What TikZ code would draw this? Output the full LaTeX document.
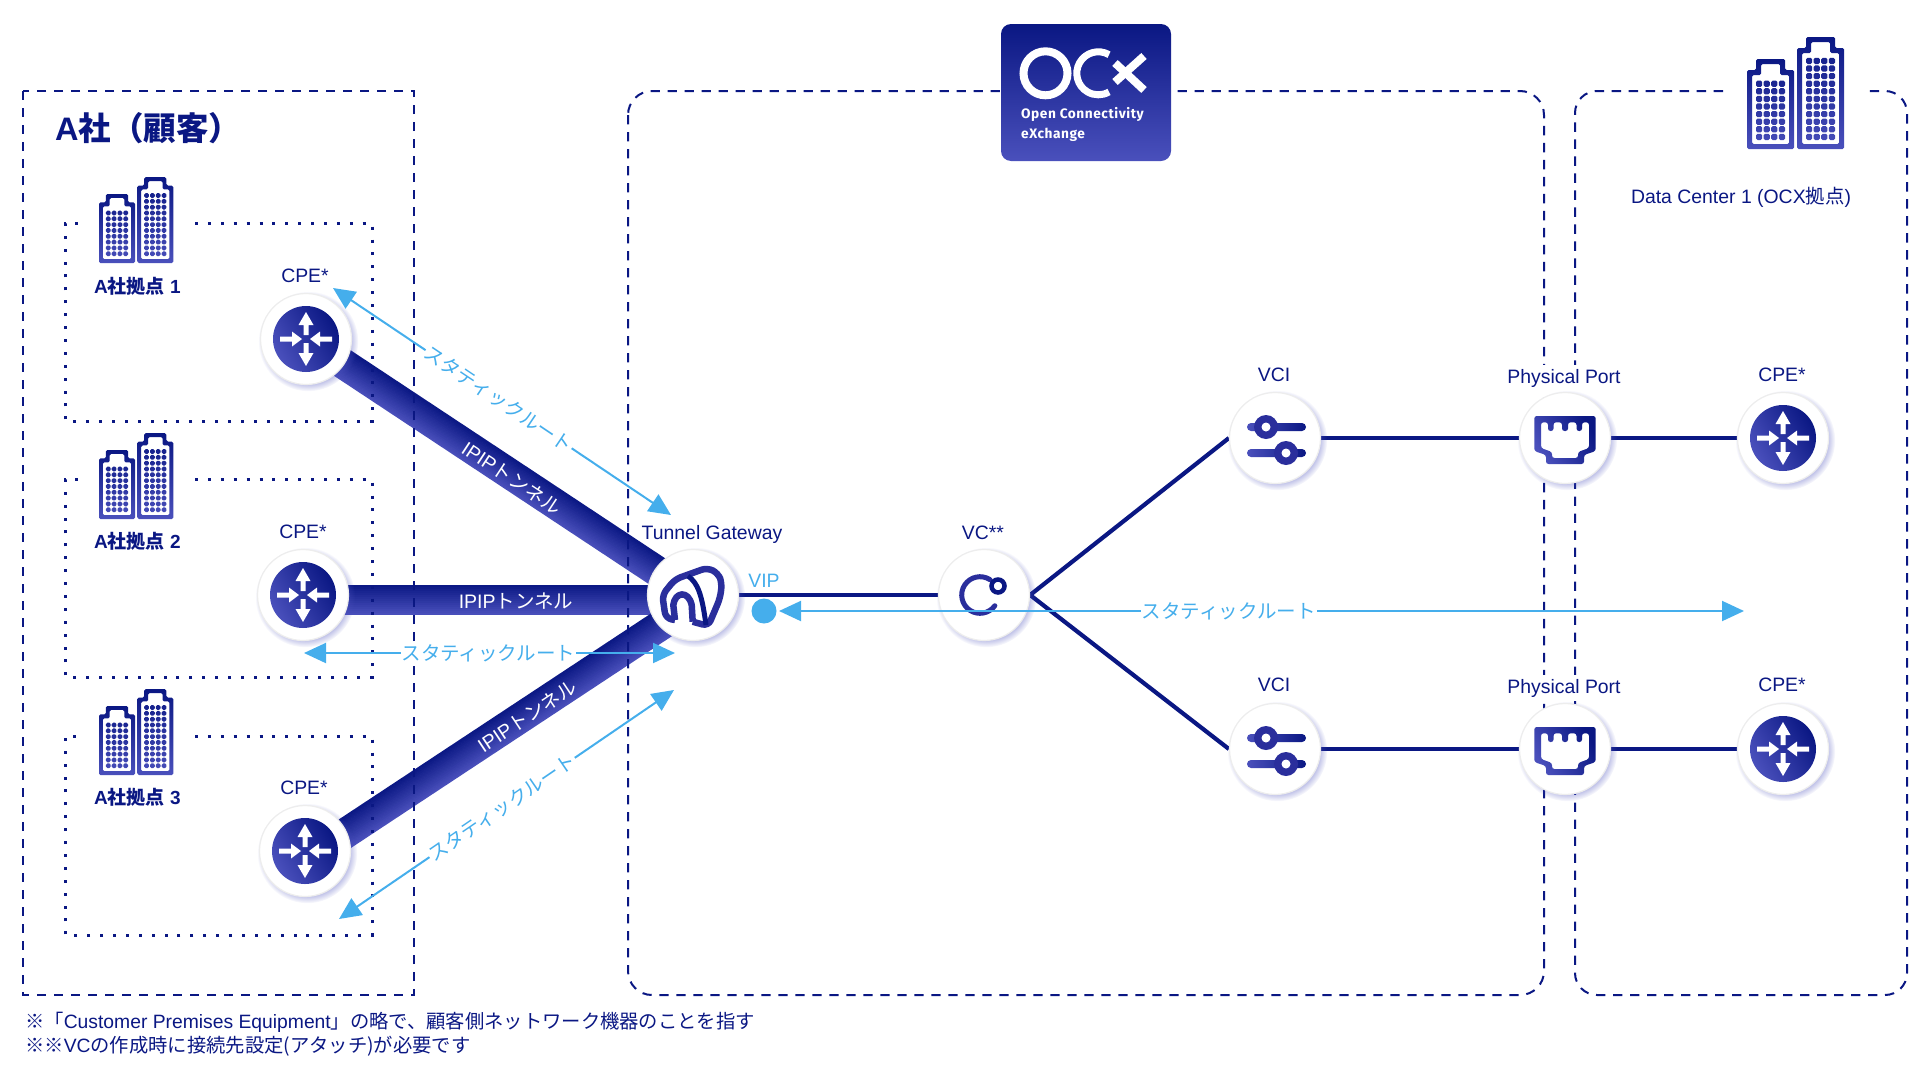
\documentclass[tikz,border=0pt]{standalone}
\usepackage{fontspec}
\usetikzlibrary{calc}
\usetikzlibrary{arrows.meta}
\usetikzlibrary{shadows}
\usetikzlibrary{backgrounds}
\setmainfont{Liberation Sans}
\newfontfamily\cjk{Noto Sans CJK JP}
\newfontfamily\logofont[LetterSpace=4]{Fira Sans}
\definecolor{navyline}{HTML}{0A1783}
\definecolor{violetshade}{HTML}{4A50BC}
\definecolor{iconmid}{HTML}{2A2E9C}
\definecolor{routeblue}{HTML}{45AEEC}
\tikzset{
	lbl/.style={text=navyline, inner sep=0pt, font=\fontsize{19.4}{24}\selectfont},
	portlbl/.style={lbl, fill=white, inner xsep=1pt, inner ysep=4pt},
	sitelbl/.style={text=navyline, inner sep=0pt, anchor=west, font=\fontsize{19}{23}\selectfont\bfseries},
	notelbl/.style={text=navyline, inner sep=0pt, anchor=west, font=\fontsize{19.3}{23}\selectfont},
	tunnellbl/.style={text=white, inner sep=0pt, font=\fontsize{19.5}{23}\selectfont},
	routelbl/.style={text=routeblue, fill=white, inner xsep=1pt, inner ysep=0pt, font=\fontsize{19.5}{23}\selectfont},
	hub/.style={circle, fill=white, draw=black!7, line width=1.2pt, minimum size=91pt, inner sep=0pt,
		circular drop shadow={shadow xshift=2pt, shadow yshift=-2pt, shadow scale=1.1, fill=violetshade, opacity=0.35}},
	outerbox/.style={draw=navyline, line width=2pt, dash pattern=on 9.3pt off 7.7pt},
	sitebox/.style={draw=navyline, line width=3pt, dash pattern=on 3pt off 9.9pt},
	link/.style={draw=navyline, line width=4.2pt},
	routeline/.style={draw=routeblue, line width=2pt},
	iconshade/.style={top color=navyline, bottom color=violetshade, shading angle=-60},
	barshade/.style={left color=violetshade, right color=navyline},
	towershade/.style={top color=navyline, bottom color=violetshade, even odd rule, rounded corners=1.5pt},
	tip/.tip={Triangle[length=22pt, width=20pt]}
}
\newcommand{\tower}[3] % x offset, height, window rows
{
	\shade[towershade] (#1,0) -- (#1,-#2+11) -- (#1+9,-#2+11) -- (#1+9,-#2) -- (#1+38,-#2) -- (#1+38,-#2+11) -- (#1+47,-#2+11) -- (#1+47,0) -- cycle
		(#1+5,-5) -- (#1+5,-#2+16) -- (#1+14,-#2+16) -- (#1+14,-#2+5) -- (#1+33,-#2+5) -- (#1+33,-#2+16) -- (#1+42,-#2+16) -- (#1+42,-5) -- cycle
		\foreach \wy in {1,...,#3} { \foreach \wx in {0,1,2,3} {
			(#1+9+\wx*7.6,-9-\wy*7.6+7.6) rectangle ++(6.2,-6.2)
		} };
}
\newcommand{\building}[3] % x left, y bottom, scale
{
	\begin{scope}[shift={(#1,#2)}, scale=#3]
		\tower{0}{90}{8}
		\tower{50}{112}{11}
	\end{scope}
}
\newcommand{\tunnel}[3] % from node, to node, y offset
{
	\coordinate (tfrom) at ($(#1)+(0,#3)$);
	\coordinate (tto) at ($(#2)+(0,#3)$);
	\foreach \d [evaluate=\d as \p using {int((\d+15)*100/30)}] in {-14,-12,...,14}
		\draw[line width=2.5pt, navyline!\p!violetshade] ($(tfrom)!\d pt!90:(tto)$) -- ($(tto)!\d pt!-90:(tfrom)$);
}
\newcommand{\routerglyph}[1] % node
{
	\begin{scope}[shift={(#1)}]
		\shade[iconshade] (0,0) circle[radius=33pt];
		\foreach \r in {0,180}
			\fill[white, rotate=\r] (-2.5,-4) -- (-2.5,-14) -- (-7.5,-14) -- (0,-27) -- (7.5,-14) -- (2.5,-14) -- (2.5,-4) -- cycle;
		\foreach \r in {90,270}
			\fill[white, rotate=\r] (-2.5,-26) -- (-2.5,-14) -- (-7.5,-14) -- (0,-4) -- (7.5,-14) -- (2.5,-14) -- (2.5,-26) -- cycle;
	\end{scope}
}
\newcommand{\sliderglyph}[1] % node
{
	\begin{scope}[shift={(#1)}]
		% upper slider
		\shade[barshade, rounded corners=4pt] (-28,-15) rectangle (31,-7);
		\fill[iconmid] (-9,-11) circle[radius=12pt];
		\fill[white] (-9,-11) circle[radius=4.5pt];
		% lower slider
		\shade[barshade, rounded corners=4pt] (-28,11) rectangle (31,19);
		\fill[iconmid] (11,15) circle[radius=12pt];
		\fill[white] (11,15) circle[radius=4.5pt];
	\end{scope}
}
\newcommand{\portglyph}[1] % node
{
	\begin{scope}[shift={(#1)}]
		\shade[iconshade, even odd rule, rounded corners=2.5pt]
			(-30.7,-22) -- (30.7,-22) -- (30.7,13) -- (19,17) -- (19,26) -- (-19,26) -- (-19,17) -- (-30.7,13) -- cycle
			(-24,-15.7) -- (-17,-15.7) -- (-17,-7) -- (-11.5,-7) -- (-11.5,-15.7) -- (-3,-15.7) -- (-3,-7) -- (3,-7) -- (3,-15.7) -- (11.5,-15.7) -- (11.5,-7) -- (17,-7) -- (17,-15.7) -- (24,-15.7) -- (24,10) -- (13,14) -- (13,20) -- (-13,20) -- (-13,14) -- (-24,10) -- cycle;
	\end{scope}
}
\newcommand{\gatewayglyph}[1] % node
{
	\begin{scope}[shift={(#1)}]
		\draw[iconmid, line width=6.5pt, rounded corners=6pt, line join=round] (-18,25) -- (-27.3,23.3) -- (-30.7,0) -- (-18,-15.7) -- (14.3,-27.3) -- (25.3,-21.7) -- (29,-11.7) -- (27,3.3) -- (15.3,31) -- (-0.3,26.7);
		\draw[iconmid, line width=6.5pt, line join=round] (-18,25) -- (-19.7,10) .. controls (-18,-3.3) and (-4.7,-5) .. (-1.3,10) -- (-0.3,26.7);
		\draw[navyline, line width=5pt] (-5,-19) .. controls (5,-12) and (9,0) .. (13,30);
	\end{scope}
}
\newcommand{\vcglyph}[1] % node
{
	\begin{scope}[shift={(#1)}]
		\draw[iconmid, line width=5pt, line cap=round] (-4,0) ++(57:18.3pt) arc[start angle=57, end angle=324, radius=18.3pt];
		\draw[navyline, line width=4.5pt] (14,-9) circle[radius=6.5pt];
	\end{scope}
}
\begin{document}
\begin{tikzpicture}[x=1pt, y=-1pt]
	\useasboundingbox (0,0) rectangle (1930,1082);

	% dashed areas
	\draw[outerbox] (23,91) rectangle (414,995);
	\draw[outerbox, rounded corners=24pt] (628,91) rectangle (1544,995);
	\draw[outerbox, rounded corners=22pt] (1723,91) -- (1575,91) -- (1575,995) -- (1907,995) -- (1907,91) -- (1868,91);
	% customer sites
	\draw[sitebox] (195,223) -- (372,223) -- (372,421) -- (65,421) -- (65,223) -- (81,223);
	\draw[sitebox] (195,479) -- (372,479) -- (372,677) -- (65,677) -- (65,479) -- (81,479);
	\draw[sitebox] (195,736) -- (372,736) -- (372,935) -- (65,935) -- (65,736) -- (81,736);
	\building{99}{263}{0.766}
	\building{99}{519}{0.766}
	\building{99}{775}{0.766}
	\building{1747}{149}{1}

	% nodes
	\node[hub] (cpeA) at (306,339) {};
	\node[hub] (cpeB) at (303,595) {};
	\node[hub] (cpeC) at (305,851) {};
	\node[hub] (tg) at (693,595) {};
	\node[hub] (vc) at (984,595) {};
	\node[hub] (vciA) at (1275,438) {};
	\node[hub] (vciB) at (1275,749) {};
	\node[hub] (portA) at (1565,438) {};
	\node[hub] (portB) at (1565,749) {};
	\node[hub] (cpeD) at (1783,438) {};
	\node[hub] (cpeE) at (1783,749) {};

	% tunnels and links below the nodes
	\begin{scope}[on background layer]
		\tunnel{cpeA}{tg}{0}
		\tunnel{cpeB}{tg}{5}
		\tunnel{cpeC}{tg}{9}
		\draw[link] (tg) -- (vc);
		\draw[link] (vc.east) -- (vciA.west);
		\draw[link] (vc.east) -- (vciB.west);
		\draw[link] (vciA) -- (portA);
		\draw[link] (vciB) -- (portB);
		\draw[link] (portA) -- (cpeD);
		\draw[link] (portB) -- (cpeE);
	\end{scope}

	\routerglyph{cpeA}
	\routerglyph{cpeB}
	\routerglyph{cpeC}
	\routerglyph{cpeD}
	\routerglyph{cpeE}
	\gatewayglyph{tg}
	\vcglyph{vc}
	\sliderglyph{vciA}
	\sliderglyph{vciB}
	\portglyph{portA}
	\portglyph{portB}

	% logo card
	\node[top color=navyline, bottom color=violetshade, rounded corners=10pt, minimum width=170pt, minimum height=137pt, inner sep=0pt] (ocx) at (1086,92.5) {};
	\draw[white, line width=8pt] (1045.5,73.3) circle[radius=22pt];
	\draw[white, line width=7pt] (1098.3,73.3) ++(60:21.5pt) arc[start angle=60, end angle=300, radius=21.5pt];
	\draw[white, line width=8pt] (1115,82) -- (1144,56);
	\draw[white, line width=8pt] (1115,63) -- (1144,90);
	\node[text=white, inner sep=0pt, anchor=west, font=\fontsize{13.7}{17}\logofont\bfseries] (ocxa) at (1021,114.5) {Open Connectivity};
	\node[text=white, inner sep=0pt, anchor=west, font=\fontsize{13.7}{17}\logofont\bfseries] (ocxb) at (1021,134.5) {eXchange};

	% static routes
	\coordinate (rAa) at (333,288);
	\coordinate (rAb) at (671,515);
	\coordinate (rBa) at (304,653);
	\coordinate (rBb) at (675,653);
	\coordinate (rCa) at (339,919);
	\coordinate (rCb) at (674,690);
	\coordinate (rDa) at (779,611);
	\coordinate (rDb) at (1744,611);
	\draw[routeline, {tip}-{tip}] (rAa) -- node[routelbl, sloped, pos=0.49] (rAt) {\cjk スタティックルート} (rAb);
	\draw[routeline, {tip}-{tip}] (rBa) -- node[routelbl, pos=0.497] (rBt) {\cjk スタティックルート} (rBb);
	\draw[routeline, {tip}-{tip}] (rCa) -- node[routelbl, sloped, pos=0.487] (rCt) {\cjk スタティックルート} (rCb);
	\draw[routeline, {tip}-{tip}] (rDa) -- node[routelbl, pos=0.466] (rDt) {\cjk スタティックルート} (rDb);
	\node[circle, fill=routeblue, minimum size=25pt, inner sep=0pt] (vipdot) at (764,611) {};
	\node[lbl, text=routeblue] (vip) at (764,581) {VIP};

	% tunnel labels
	\node[tunnellbl, rotate=-33.5] (ipipA) at (512,478) {IPIP{\cjk トンネル}};
	\node[tunnellbl] (ipipB) at (516,601) {IPIP{\cjk トンネル}};
	\node[tunnellbl, rotate=33.7] (ipipC) at (527,716) {IPIP{\cjk トンネル}};

	% labels
	\node[lbl, text=navyline, anchor=west, font=\fontsize{32.5}{36}\selectfont\bfseries] (cust) at (55,128) {A{\cjk 社（顧客）}};
	\node[sitelbl] (siteA) at (94,286) {A{\cjk 社拠点} 1};
	\node[sitelbl] (siteB) at (94,541) {A{\cjk 社拠点} 2};
	\node[sitelbl] (siteC) at (94,797) {A{\cjk 社拠点} 3};
	\node[lbl] (lcpeA) at (305,276) {CPE*};
	\node[lbl] (lcpeB) at (303,532) {CPE*};
	\node[lbl] (lcpeC) at (304,788) {CPE*};
	\node[lbl] (ltg) at (712,534) {Tunnel Gateway};
	\node[lbl] (lvc) at (983,533) {VC**};
	\node[lbl] (lvciA) at (1274,375) {VCI};
	\node[lbl] (lvciB) at (1274,685) {VCI};
	\node[portlbl] (lportA) at (1564,378) {Physical Port};
	\node[portlbl] (lportB) at (1564,688) {Physical Port};
	\node[lbl] (lcpeD) at (1782,375) {CPE*};
	\node[lbl] (lcpeE) at (1782,685) {CPE*};
	\node[lbl] (ldc) at (1741,197) {Data Center 1 (OCX{\cjk 拠点})};

	% notes
	\node[notelbl] (noteA) at (25,1022) {{\cjk ※「}Customer Premises Equipment{\cjk 」の略で、顧客側ネットワーク機器のことを指す}};
	\node[notelbl] (noteB) at (25,1046) {{\cjk ※※}VC{\cjk の作成時に接続先設定(アタッチ)が必要です}};
\end{tikzpicture}
\end{document}
